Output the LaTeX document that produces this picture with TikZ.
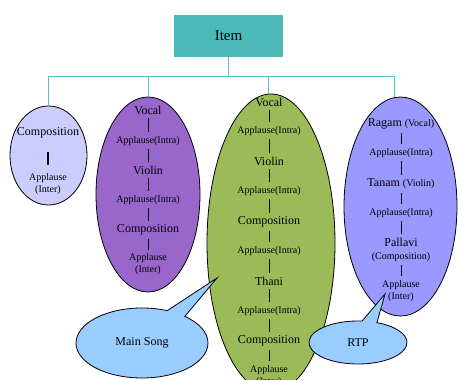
\documentclass[tikz,border=0pt]{standalone}
\usepackage{fontspec}
\setmainfont{Liberation Serif}
\usepackage{xcolor}
\usetikzlibrary{shapes.geometric,shapes.callouts}

\definecolor{itemteal}{HTML}{4BB9B8}
\definecolor{treeline}{HTML}{5ABFBE}
\definecolor{lavfill}{HTML}{CCCCFF}
\definecolor{violetfill}{HTML}{9966CC}
\definecolor{olivefill}{HTML}{9BBB59}
\definecolor{periwinkle}{HTML}{9999FF}
\definecolor{bubblefill}{HTML}{99CCFF}

\begin{document}
\begin{tikzpicture}[x=1pt,y=-1pt,
    big/.style={font=\fontsize{12}{13}\selectfont, inner sep=1.5pt, align=center},
    small/.style={font=\fontsize{10}{12}\selectfont, inner sep=1.5pt, align=center},
    blob/.style={ellipse, draw=black, line width=0.8pt, inner sep=0pt},
    tree/.style={draw=treeline, line width=1pt},
    link/.style={draw=black, line width=0.7pt, shorten <=2pt, shorten >=2.5pt},
    bubble/.style={ellipse callout, draw=black, line width=0.8pt, fill=bubblefill,
        font=\fontsize{12}{13}\selectfont, callout pointer arc=18}]
    \useasboundingbox (0,0) rectangle (458,380);

    % root box
    \node[fill=itemteal, minimum width=109pt, minimum height=42pt,
        font=\fontsize{15}{16}\selectfont] (item) at (228.5,36) {Item};

    % the four groups
    \node[blob, fill=lavfill, minimum width=77pt, minimum height=99pt] (ecomp) at (48.5,155.5) {};
    \node[blob, fill=violetfill, minimum width=104pt, minimum height=195pt] (evocal) at (148,194.5) {};
    \node[blob, fill=olivefill, minimum width=128pt, minimum height=298pt] (emain) at (271,243) {};
    \node[blob, fill=periwinkle, minimum width=113pt, minimum height=219pt] (ertp) at (400.5,206.5) {};

    % tree lines
    \draw[tree] (item.south) -- ++(0,19) coordinate (bus);
    \draw[tree] (bus) -| (ecomp.north);
    \draw[tree] (bus) -| (evocal.north);
    \draw[tree] (bus) -| (emain.91);
    \draw[tree] (bus) -| (ertp.93);

    % first group
    \node[big] (c1) at (48,133) {Composition};
    \node[small] (c2) at (48,184) {Applause\\(Inter)};
    \draw[line width=1.3pt, shorten <=12pt, shorten >=7pt] (c1) -- (c2);

    % second group
    \node[big] (v1) at (148,110) {Vocal};
    \node[small] (v2) at (148,141) {Applause(Intra)};
    \node[big] (v3) at (148,170) {Violin};
    \node[small] (v4) at (148,200) {Applause(Intra)};
    \node[big] (v5) at (148,230) {Composition};
    \node[small] (v6) at (148,264.5) {Applause\\(Inter)};
    \draw[link] (v1) -- (v2);
    \draw[link] (v2) -- (v3);
    \draw[link] (v3) -- (v4);
    \draw[link] (v4) -- (v5);
    \draw[link] (v5) -- (v6);

    % third group
    \node[big] (m1) at (269,102) {Vocal};
    \node[small] (m2) at (269,131) {Applause(Intra)};
    \node[big] (m3) at (269,161) {Violin};
    \node[small] (m4) at (269,191) {Applause(Intra)};
    \node[big] (m5) at (269,222) {Composition};
    \node[small] (m6) at (269,251) {Applause(Intra)};
    \node[big] (m7) at (269,281) {Thani};
    \node[small] (m8) at (269,311) {Applause(Intra)};
    \node[big] (m9) at (269,341) {Composition};
    \node[small] (m10) at (269,376) {Applause\\(Inter)};
    \draw[link] (m1) -- (m2);
    \draw[link] (m2) -- (m3);
    \draw[link] (m3) -- (m4);
    \draw[link] (m4) -- (m5);
    \draw[link] (m5) -- (m6);
    \draw[link] (m6) -- (m7);
    \draw[link] (m7) -- (m8);
    \draw[link] (m8) -- (m9);
    \draw[link] (m9) -- (m10);

    % fourth group
    \node[big] (r1) at (401,124) {Ragam {\fontsize{10}{12}\selectfont(Vocal)}};
    \node[small] (r2) at (401,153) {Applause(Intra)};
    \node[big] (r3) at (401,184) {Tanam {\fontsize{10}{12}\selectfont(Violin)}};
    \node[small] (r4) at (401,213) {Applause(Intra)};
    \node[big] (r5) at (401,250) {Pallavi\\{\fontsize{10}{12}\selectfont(Composition)}};
    \node[small] (r6) at (401,291) {Applause\\(Inter)};
    \draw[link] (r1) -- (r2);
    \draw[link] (r2) -- (r3);
    \draw[link] (r3) -- (r4);
    \draw[link] (r4) -- (r5);
    \draw[link] (r5) -- (r6);

    % speech bubbles
    \node[bubble, minimum width=132pt, minimum height=70pt,
        callout absolute pointer={(217,278)}] (mainsong) at (142,343) {Main Song};
    \node[bubble, minimum width=98pt, minimum height=43pt,
        callout absolute pointer={(385,294)}] (rtp) at (358,342.5) {RTP};
\end{tikzpicture}
\end{document}
